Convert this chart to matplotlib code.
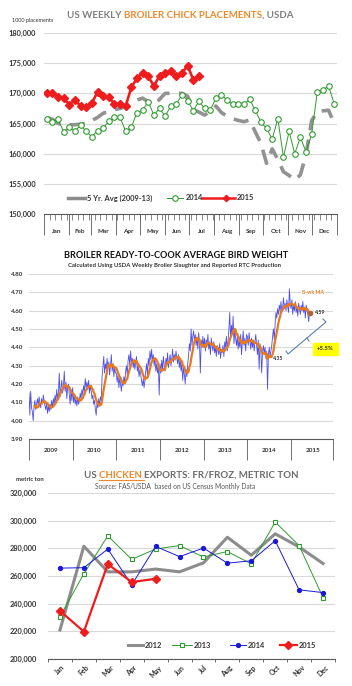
import matplotlib
matplotlib.use("Agg")
import matplotlib.pyplot as plt
import matplotlib.transforms as mtransforms
from matplotlib.patches import Rectangle
import numpy as np
import pandas as pd

plt.rcParams["font.family"] = ["Lato", "DejaVu Sans"]

# ── Data: weekly broiler chick placements (1000 head) ────────────────────────
MONTHS = ["Jan", "Feb", "Mar", "Apr", "May", "Jun",
          "Jul", "Aug", "Sep", "Oct", "Nov", "Dec"]
PLACE_AVG = [166.0, 165.7, 165.0, 164.8, 164.8, 164.8, 164.9, 165.0, 165.5, 166.0,
             166.7, 167.0, 167.3, 167.5, 167.8, 168.4, 168.9, 169.2, 168.6, 168.0,
             169.0, 170.0, 170.0, 170.0, 170.0, 169.5, 167.3, 166.9, 166.4, 167.0,
             167.9, 166.8, 166.2, 165.8, 165.5, 165.3, 165.6, 163.6, 161.7, 158.4,
             160.8, 159.0, 157.0, 156.4, 155.6, 156.5, 159.8, 165.5, 166.9, 167.1,
             167.2, 165.0]
PLACE_2014 = [165.7, 165.3, 165.7, 163.6, 164.4, 163.8, 164.7, 163.7, 162.8, 163.8,
              164.2, 165.4, 166.0, 166.0, 163.7, 164.4, 166.8, 167.2, 168.6, 166.4,
              167.5, 166.2, 167.9, 168.2, 169.8, 168.8, 167.1, 168.7, 167.5, 167.2,
              169.2, 169.7, 168.9, 168.2, 168.2, 168.2, 169.0, 167.2, 165.2, 164.2,
              162.4, 165.8, 159.4, 163.7, 160.0, 162.7, 160.3, 163.2, 170.2, 170.6,
              171.2, 168.3]
PLACE_2015 = [170.0, 170.0, 169.4, 169.2, 168.1, 168.9, 167.9, 167.8, 168.4, 170.2,
              169.6, 169.4, 168.2, 168.2, 167.9, 171.0, 172.5, 173.4, 172.8, 171.2,
              172.9, 173.3, 173.7, 172.9, 173.4, 174.6, 172.2, 172.8]

# ── Data: weekly RTC average bird weight (lb) ────────────────────────────────
RTC_2009 = [4.15, 4.03, 4.16, 4.07, 4.05, 4.00, 4.08, 4.11, 4.06, 4.09,
            4.12, 4.08, 4.13, 4.10, 4.07, 4.12, 4.09, 4.14, 4.11, 4.08,
            4.06, 4.10, 4.04, 4.08, 4.05, 4.09, 4.06, 4.11, 4.07, 4.12,
            4.09, 4.14, 4.10, 4.17, 4.12, 4.15, 4.26, 4.13, 4.18, 4.22,
            4.15, 4.19, 4.27, 4.16, 4.21, 4.12, 4.18, 4.20, 4.14, 4.09,
            4.17, 4.11]
RTC_2010 = [4.18, 4.10, 4.14, 4.09, 4.12, 4.08, 4.13, 4.09, 4.11, 4.15,
            4.12, 4.17, 4.14, 4.19, 4.16, 4.23, 4.18, 4.21, 4.17, 4.22,
            4.15, 4.19, 4.16, 4.12, 4.14, 4.09, 4.11, 4.06, 4.03, 4.10,
            4.07, 4.12, 4.08, 4.13, 4.11, 4.24, 4.29, 4.35, 4.26, 4.31,
            4.28, 4.34, 4.29, 4.32, 4.25, 4.30, 4.36, 4.27, 4.31, 4.24,
            4.29, 4.26]
RTC_2011 = [4.26, 4.21, 4.25, 4.18, 4.23, 4.20, 4.16, 4.22, 4.19, 4.24,
            4.21, 4.27, 4.30, 4.25, 4.33, 4.36, 4.30, 4.38, 4.31, 4.34,
            4.29, 4.33, 4.28, 4.32, 4.35, 4.27, 4.30, 4.24, 4.28, 4.25,
            4.22, 4.19, 4.23, 4.18, 4.22, 4.27, 4.31, 4.25, 4.34, 4.30,
            4.38, 4.33, 4.39, 4.32, 4.36, 4.30, 4.34, 4.27, 4.31, 4.26,
            4.30, 4.14]
RTC_2012 = [4.31, 4.26, 4.33, 4.28, 4.35, 4.30, 4.27, 4.34, 4.31, 4.37,
            4.29, 4.33, 4.36, 4.30, 4.34, 4.39, 4.32, 4.36, 4.33, 4.38,
            4.34, 4.31, 4.36, 4.29, 4.33, 4.27, 4.31, 4.22, 4.29, 4.25,
            4.20, 4.28, 4.24, 4.31, 4.36, 4.42, 4.38, 4.50, 4.41, 4.46,
            4.49, 4.43, 4.47, 4.41, 4.45, 4.39, 4.48, 4.42, 4.26, 4.44,
            4.40, 4.46]
RTC_2013 = [4.40, 4.45, 4.38, 4.44, 4.41, 4.47, 4.39, 4.43, 4.36, 4.45,
            4.41, 4.38, 4.43, 4.37, 4.40, 4.35, 4.41, 4.38, 4.36, 4.42,
            4.34, 4.39, 4.37, 4.41, 4.35, 4.43, 4.40, 4.46, 4.38, 4.44,
            4.50, 4.59, 4.44, 4.52, 4.47, 4.57, 4.42, 4.49, 4.45, 4.41,
            4.46, 4.39, 4.44, 4.40, 4.47, 4.36, 4.43, 4.49, 4.41, 4.45,
            4.38, 4.47]
RTC_2014 = [4.46, 4.41, 4.48, 4.43, 4.39, 4.45, 4.40, 4.44, 4.38, 4.43,
            4.47, 4.41, 4.36, 4.44, 4.28, 4.42, 4.39, 4.26, 4.37, 4.41,
            4.37, 4.40, 4.34, 4.38, 4.17, 4.36, 4.40, 4.35, 4.38, 4.41,
            4.46, 4.50, 4.44, 4.53, 4.59, 4.56, 4.61, 4.58, 4.63, 4.60,
            4.65, 4.59, 4.62, 4.67, 4.61, 4.64, 4.60, 4.66, 4.62, 4.59,
            4.72, 4.64]
RTC_2015 = [4.61, 4.66, 4.58, 4.63, 4.60, 4.65, 4.59, 4.62, 4.57, 4.64,
            4.61, 4.58, 4.63, 4.60, 4.65, 4.59, 4.62, 4.56, 4.63, 4.60,
            4.58, 4.54, 4.59]
RTC_YEARS = [2009, 2010, 2011, 2012, 2013, 2014, 2015]
LOW_LABEL = "4.35"
LAST_LABEL = "4.59"

# ── Data: monthly chicken exports (metric ton) ───────────────────────────────
EXP_2012 = [221000, 281500, 263000, 263000, 265000, 263000,
            269500, 288000, 275000, 290500, 281000, 269000]
EXP_2013 = [230700, 261600, 289000, 272000, 279500, 282000,
            273700, 277700, 268800, 299000, 282000, 244400]
EXP_2014 = [265700, 266000, 279500, 253600, 281400, 274000,
            280200, 269300, 271000, 285500, 250000, 248000]
EXP_2015 = [234800, 219800, 268600, 255600, 258000]

# ── Style ────────────────────────────────────────────────────────────────────
GRID = "#d9d9d9"
AXC = "#595959"
TXT = "#333333"
GRAY = "#8c8c8c"
GREEN = "#2f9a2f"
RED = "#ee1c1c"
BLUE = "#1a1ad6"
ORANGE = "#f0882a"

W, H = 352, 686
fig = plt.figure(figsize=(W / 100, H / 100), dpi=100)
fig.patch.set_facecolor("white")


def px_axes(x0, y0, x1, y1):
    """Axes from pixel box (origin top-left)."""
    return fig.add_axes([x0 / W, 1 - y1 / H, (x1 - x0) / W, (y1 - y0) / H])


# overlay in pixel coords for titles / notes
ov = fig.add_axes([0, 0, 1, 1], zorder=10)
ov.set_xlim(0, W)
ov.set_ylim(H, 0)
ov.axis("off")
renderer = fig.canvas.get_renderer()


def text_w(s, size):
    t = ov.text(0, 0, s, fontsize=size, fontweight="bold")
    w = t.get_window_extent(renderer).width
    t.remove()
    return w


def rich_title(xc, y, parts, size, underline=None):
    full = "".join(c for c, _ in parts)
    x0 = xc - text_w(full, size) / 2
    offs = []
    for i, (s, col) in enumerate(parts):
        prefix = "".join(c for c, _ in parts[:i])
        off = text_w(prefix + "I", size) - text_w("I", size) if prefix else 0
        offs.append(x0 + off)
        ov.text(x0 + off, y, s, color=col, fontsize=size, fontweight="bold",
                ha="left", va="center")
    if underline is not None:
        i = underline
        prefix = "".join(c for c, _ in parts[:i + 1])
        x_end = x0 + text_w(prefix + "I", size) - text_w("I", size)
        ov.plot([offs[i], x_end], [y + 4.5, y + 4.5], color=parts[i][1], lw=0.8)


def style_axes(ax):
    for s in ("left", "right", "top"):
        ax.spines[s].set_visible(False)
    ax.spines["bottom"].set_color(AXC)
    ax.spines["bottom"].set_linewidth(0.8)
    ax.grid(axis="y", color=GRID, lw=0.8)
    ax.set_axisbelow(True)


# ══ Panel 1: chick placements ════════════════════════════════════════════════
rich_title(180, 15.5, [("US WEEKLY ", "#808080"),
                       ("BROILER CHICK PLACEMENTS", ORANGE),
                       (", USDA", "#808080")], 7.0)
ov.text(33, 20.7, "1000 placements", fontsize=4.0, color=TXT,
        ha="center", va="center")

ax1 = px_axes(44, 33, 337, 214)
ax1.plot(np.arange(1, len(PLACE_AVG) + 1), PLACE_AVG, color="#929292", lw=2.6,
         dashes=(4.2, 2.6), zorder=2)
ax1.plot(np.arange(1, len(PLACE_2014) + 1), PLACE_2014, color=GREEN, lw=0.7,
         marker="o", ms=4, mfc="white", mec=GREEN, mew=0.8, zorder=3)
ax1.plot(np.arange(1, len(PLACE_2015) + 1), PLACE_2015, color=RED, lw=1.9,
         marker="D", ms=3.8, zorder=4)
ax1.set_xlim(0.5, 52.5)
ax1.set_ylim(150, 180)
yt = np.arange(150, 181, 5)
ax1.set_yticks(yt)
ax1.set_yticklabels([f"{int(v) * 1000:,}" for v in yt])
ax1.tick_params(axis="y", length=0, pad=5.8, labelsize=5.3, labelcolor=TXT)
style_axes(ax1)

cum_days = np.array([0, 31, 59, 90, 120, 151, 181, 212, 243, 273, 304, 334, 365])
month_edges = 0.5 + cum_days / 365 * 52
month_mid = (month_edges[:-1] + month_edges[1:]) / 2
ax1.set_xticks(month_edges)
ax1.set_xticks(np.arange(0.5, 53, 1), minor=True)
ax1.tick_params(axis="x", which="major", length=15, width=0.6, color=AXC,
                labelbottom=False)
ax1.tick_params(axis="x", which="minor", length=4.5, width=0.5, color=AXC)
tr1 = mtransforms.blended_transform_factory(ax1.transData, ax1.transAxes)
for m, xm in zip(MONTHS, month_mid):
    ax1.text(xm, -0.094, m, transform=tr1, ha="center", va="center",
             fontsize=4.6, fontweight="bold", color=TXT)

# legend (pixel positions)
ly = 198
ov.plot([68, 85], [ly, ly], color=GRAY, lw=2.5)
ov.text(87, ly, "5 Yr. Avg (2009-13)", fontsize=5.4, fontweight="bold",
        color=TXT, va="center")
ov.plot([167, 183], [ly, ly], color=GREEN, lw=0.7)
ov.plot([175], [ly], marker="o", ms=4, mfc="white", mec=GREEN, mew=0.8)
ov.text(186, ly, "2014", fontsize=5.4, fontweight="bold", color=TXT, va="center")
ov.plot([202, 235], [ly, ly], color=RED, lw=1.8)
ov.plot([226], [ly], marker="D", ms=3.2, color=RED)
ov.text(237, ly, "2015", fontsize=5.4, fontweight="bold", color=TXT, va="center")

# ══ Panel 2: RTC bird weight ═════════════════════════════════════════════════
ov.text(176, 256, "BROILER READY-TO-COOK AVERAGE BIRD WEIGHT", fontsize=6.6,
        fontweight="bold", color="#111111", ha="center", va="center")
ov.text(175, 265.7, "Calculated Using USDA Weekly Broiler Slaughter and Reported RTC Production",
        fontsize=4.3, fontweight="bold", color=TXT, ha="center", va="center")

rtc = RTC_2009 + RTC_2010 + RTC_2011 + RTC_2012 + RTC_2013 + RTC_2014 + RTC_2015
t = 2009 + np.arange(len(rtc)) / 52
ma = pd.Series(rtc).rolling(8).mean()

ax2 = px_axes(29, 274, 333, 439)
ax2.plot(t, rtc, color="#4f4fe6", lw=0.6, zorder=2)
ax2.plot(t, ma, color="#e8781e", lw=1.6, zorder=3)
ax2.plot(t[-1], ma.iloc[-1], marker="o", ms=3, color="#b8622a", zorder=4)
ax2.text(t[-1] + 0.12, ma.iloc[-1], LAST_LABEL, fontsize=3.8,
         fontweight="bold", color=TXT, va="center")
in14 = (t >= 2014) & (t < 2015)
i_min = int(np.nanargmin(np.where(in14, ma.values, np.nan)))
ax2.text(t[i_min] + 0.12, ma.iloc[i_min], LOW_LABEL, fontsize=3.8,
         fontweight="bold", color=TXT, va="center")
ax2.text(2015.5, 4.70, "8-wk MA", fontsize=3.8, fontweight="bold",
         color="#e8781e", ha="center", va="center",
         bbox=dict(fc="white", ec="none", pad=0.3))

ax2.set_xlim(2009, 2015.96)
ax2.set_ylim(3.9, 4.8)
yt2 = np.round(np.arange(3.9, 4.81, 0.1), 2)
ax2.set_yticks(yt2)
ax2.set_yticklabels([f"{v:.2f}" for v in yt2])
ax2.tick_params(axis="y", length=0, pad=4.3, labelsize=4.5, labelcolor=TXT)
style_axes(ax2)
ax2.set_xticks(RTC_YEARS + [2015.96])
ax2.tick_params(axis="x", which="major", length=15, width=0.6, color=AXC,
                labelbottom=False)
tr2 = mtransforms.blended_transform_factory(ax2.transData, ax2.transAxes)
for y in RTC_YEARS:
    ax2.text(y + 0.5, -0.067, str(y), transform=tr2, ha="center", va="center",
             fontsize=4.6, fontweight="bold", color=TXT)

# +5.5% bracket note
BR = "#5b7fa6"
ov.plot([286, 288, 326, 323], [351, 354, 322, 319], color=BR, lw=0.8)
ov.plot([307, 309], [338, 341], color=BR, lw=0.8)
ov.add_patch(Rectangle((313, 343), 25, 12, color="#ffff00", zorder=5))
ov.text(325.5, 349, "+5.5%", fontsize=4.3, fontweight="bold", color=TXT,
        ha="center", va="center", zorder=6)

# ══ Panel 3: chicken exports ═════════════════════════════════════════════════
rich_title(191, 475.5, [("US ", "#6d6d6d"), ("CHICKEN ", ORANGE),
                        ("EXPORTS: FR/FROZ, METRIC TON", "#6d6d6d")], 7.0,
           underline=1)
ov.text(175, 486.7, "Source: FAS/USDA  based on US Census Monthly Data",
        fontsize=4.8, color="#555555", ha="center", va="center")
ov.text(30, 479.5, "metric ton", fontsize=4.3, fontweight="bold", color=TXT,
        ha="center", va="center")

ax3 = px_axes(48, 493, 335, 659)
mx = np.arange(len(MONTHS))
ax3.plot(mx, EXP_2012, color=GRAY, lw=2.2, zorder=2)
ax3.plot(mx, EXP_2013, color=GREEN, lw=0.7, marker="s", ms=2.6, mfc="white",
         mec=GREEN, mew=0.8, zorder=3)
ax3.plot(mx, EXP_2014, color=BLUE, lw=0.7, marker="o", ms=2.8, zorder=4)
ax3.plot(mx[:len(EXP_2015)], EXP_2015, color=RED, lw=1.6, marker="D", ms=3.6,
         zorder=5)
ax3.set_xlim(-0.5, 11.5)
ax3.set_ylim(200000, 320000)
yt3 = np.arange(200000, 320001, 20000)
ax3.set_yticks(yt3)
ax3.set_yticklabels([f"{v:,}" for v in yt3])
ax3.tick_params(axis="y", length=0, pad=7.9, labelsize=5.3, labelcolor=TXT)
style_axes(ax3)
ax3.set_xticks(mx)
ax3.set_xticklabels(MONTHS, rotation=45, fontsize=5, fontweight="bold", color=TXT)
ax3.set_xticks(np.arange(-0.5, 12, 1), minor=True)
ax3.tick_params(axis="x", which="major", length=0, pad=3.5)
ax3.tick_params(axis="x", which="minor", length=2.5, width=0.6, color=AXC)

for ax in (ax1, ax2, ax3):
    for lab in ax.get_yticklabels():
        lab.set_fontweight("bold")

ly3 = 645
ov.plot([128, 143], [ly3, ly3], color=GRAY, lw=2.2)
ov.text(145, ly3, "2012", fontsize=5.4, fontweight="bold", color=TXT, va="center")
ov.plot([172, 192], [ly3, ly3], color=GREEN, lw=0.7)
ov.plot([182], [ly3], marker="s", ms=2.6, mfc="white", mec=GREEN, mew=0.8)
ov.text(194, ly3, "2013", fontsize=5.4, fontweight="bold", color=TXT, va="center")
ov.plot([230, 246], [ly3, ly3], color=BLUE, lw=0.7)
ov.plot([238], [ly3], marker="o", ms=2.8, color=BLUE)
ov.text(248, ly3, "2014", fontsize=5.4, fontweight="bold", color=TXT, va="center")
ov.plot([280, 297], [ly3, ly3], color=RED, lw=1.6)
ov.plot([288], [ly3], marker="D", ms=3.6, color=RED)
ov.text(299, ly3, "2015", fontsize=5.4, fontweight="bold", color=TXT, va="center")

fig.savefig("out.png", dpi=100, facecolor="white")
